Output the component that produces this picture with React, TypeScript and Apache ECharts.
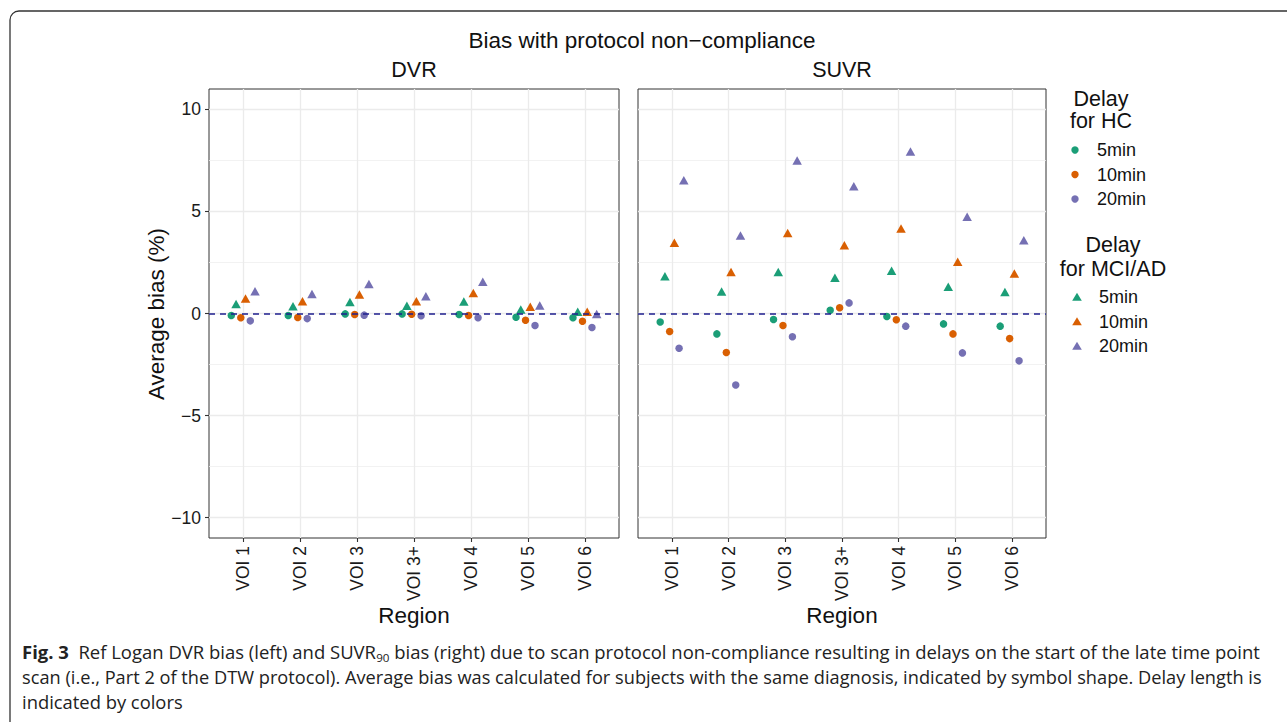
import React, { useEffect, useRef } from 'react';
import * as echarts from 'echarts';

const regions = ['VOI 1', 'VOI 2', 'VOI 3', 'VOI 3+', 'VOI 4', 'VOI 5', 'VOI 6'];
const delays = ['5min', '10min', '20min'];
const colors = ['#1B9E77', '#D95F02', '#7570B3'];
const yTicks = [-10, -5, 0, 5, 10];
const yMinor = [-7.5, -2.5, 2.5, 7.5];

// DVR panel: HC (circles) and MCI/AD (triangles), per delay
const dvrHC5 = [-0.1, -0.1, -0.02, -0.02, -0.05, -0.18, -0.21];
const dvrHC10 = [-0.21, -0.2, -0.05, -0.04, -0.1, -0.33, -0.38];
const dvrHC20 = [-0.36, -0.25, -0.08, -0.11, -0.21, -0.59, -0.69];
const dvrMCI5 = [0.46, 0.36, 0.56, 0.38, 0.59, 0.2, 0.08];
const dvrMCI10 = [0.73, 0.6, 0.93, 0.6, 1.0, 0.33, 0.08];
const dvrMCI20 = [1.09, 0.95, 1.45, 0.85, 1.55, 0.39, -0.03];

// SUVR panel
const suvrHC5 = [-0.42, -1.0, -0.29, 0.16, -0.15, -0.51, -0.62];
const suvrHC10 = [-0.88, -1.91, -0.59, 0.28, -0.31, -1.0, -1.23];
const suvrHC20 = [-1.7, -3.5, -1.14, 0.52, -0.62, -1.93, -2.32];
const suvrMCI5 = [1.83, 1.08, 2.03, 1.75, 2.1, 1.31, 1.05];
const suvrMCI10 = [3.47, 2.03, 3.95, 3.35, 4.17, 2.53, 1.96];
const suvrMCI20 = [6.53, 3.82, 7.5, 6.24, 7.94, 4.74, 3.59];

const FONT = 'Liberation Sans, Arial, sans-serif';
const CAP_FONT = 'Open Sans, Noto Sans, sans-serif';

const fmtY = (v: number) => (v < 0 ? '\u2212' + Math.abs(v) : String(v));

export default function App() {
  const ref = useRef<HTMLDivElement>(null);
  useEffect(() => {
    if (!ref.current) return;
    const chart = echarts.init(ref.current, undefined, { renderer: 'svg' });

    const panels = [
      { hc: [dvrHC5, dvrHC10, dvrHC20], mci: [dvrMCI5, dvrMCI10, dvrMCI20] },
      { hc: [suvrHC5, suvrHC10, suvrHC20], mci: [suvrMCI5, suvrMCI10, suvrMCI20] },
    ];
    const grids = [
      { left: 209, top: 89, width: 410, height: 449 },
      { left: 638, top: 89, width: 408, height: 449 },
    ];
    const catIdx = regions.map((_, i) => i);
    const dodge = 0.5 / 6;

    const xAxis: any[] = [];
    const yAxis: any[] = [];
    const series: any[] = [];
    grids.forEach((_, g) => {
      xAxis.push({
        type: 'value',
        gridIndex: g,
        min: -0.6,
        max: 6.6,
        position: 'bottom',
        axisLine: { show: false, onZero: false },
        axisTick: { show: true, customValues: catIdx, length: 4, lineStyle: { color: '#333', width: 1.1 } },
        axisLabel: {
          customValues: catIdx,
          formatter: (v: number) => regions[Math.round(v)] ?? '',
          rotate: 90,
          fontSize: 17.5,
          color: '#1a1a1a',
          fontFamily: FONT,
          margin: 8,
        },
        splitLine: { show: true, lineStyle: { color: '#EBEBEB', width: 1.3 } },
      });
      yAxis.push({
        type: 'value',
        gridIndex: g,
        min: -11,
        max: 11,
        position: 'left',
        axisLine: { show: false, onZero: false },
        axisTick: { show: g === 0, customValues: yTicks, length: 4, lineStyle: { color: '#333', width: 1.1 } },
        axisLabel: {
          show: g === 0,
          customValues: yTicks,
          formatter: fmtY,
          fontSize: 17.5,
          color: '#1a1a1a',
          fontFamily: FONT,
          margin: 8,
        },
        splitLine: { show: true, lineStyle: { color: '#EBEBEB', width: 1.3 } },
      });
    });
    // minor y gridlines
    grids.forEach((_, g) => {
      yAxis.push({
        type: 'value',
        gridIndex: g,
        min: -11,
        max: 11,
        position: 'left',
        axisLine: { show: false, onZero: false },
        axisTick: { show: false, customValues: yMinor },
        axisLabel: { show: false, customValues: yMinor },
        splitLine: { show: true, lineStyle: { color: '#EFEFEF', width: 0.8 } },
      });
    });

    panels.forEach((p, g) => {
      const groups: { vals: number[]; k: number; color: string; sym: string; name: string }[] = [];
      for (let d = 0; d < 3; d++) {
        groups.push({ vals: p.hc[d], k: d * 2, color: colors[d], sym: 'circle', name: 'HC ' + delays[d] });
        groups.push({ vals: p.mci[d], k: d * 2 + 1, color: colors[d], sym: 'triangle', name: 'MCI/AD ' + delays[d] });
      }
      series.push({
        type: 'scatter',
        xAxisIndex: g,
        yAxisIndex: g,
        data: [],
        silent: true,
        markLine: {
          silent: true,
          symbol: 'none',
          label: { show: false },
          lineStyle: { color: '#1F1F8F', type: [6, 5], width: 1.6 },
          data: [{ yAxis: 0 }],
        },
      });
      groups.forEach((gr) => {
        series.push({
          type: 'scatter',
          name: gr.name,
          xAxisIndex: g,
          yAxisIndex: g,
          symbol: gr.sym,
          symbolSize: gr.sym === 'circle' ? 7.5 : [9.5, 8.5],
          itemStyle: { color: gr.color, opacity: 1 },
          data: gr.vals.map((v, i) => [i + (gr.k - 2.5) * dodge, v]),
          z: 3,
        });
      });
    });

    const legendItems = (y0: number, sym: string, xs: number, xl: number) =>
      delays.flatMap((d, i) => {
        const cy = y0 + i * 24.5;
        const key =
          sym === 'circle'
            ? { type: 'circle', shape: { cx: xs, cy, r: 3.7 }, style: { fill: colors[i] } }
            : {
                type: 'polygon',
                shape: { points: [[xs, cy - 4.3], [xs + 4.8, cy + 3.7], [xs - 4.8, cy + 3.7]] },
                style: { fill: colors[i] },
              };
        return [
          key,
          {
            type: 'text',
            x: xl,
            y: cy,
            style: { text: d, fontSize: 18, fontFamily: FONT, fill: '#111', textAlign: 'left', textVerticalAlign: 'middle' },
          },
        ];
      });

    const txt = (text: string, x: number, y: number, size: number, extra: any = {}) => ({
      type: 'text',
      x,
      y,
      ...extra,
      style: { text, fontSize: size, fontFamily: FONT, fill: '#111', textAlign: 'center', textVerticalAlign: 'middle', ...(extra.style || {}) },
    });

    const CAP = 17.5;
    const capRich = {
      b: { fontWeight: 'bold', fontSize: CAP, fontFamily: CAP_FONT, fill: '#222', lineHeight: 22 },
      s: { fontSize: 11, fontFamily: CAP_FONT, fill: '#222', lineHeight: 14, verticalAlign: 'bottom' },
    };
    const capLine = (text: string, y: number, sx: number) => ({
      type: 'text',
      x: 22,
      y,
      scaleX: sx,
      style: {
        text,
        rich: capRich,
        fontSize: CAP,
        fontFamily: CAP_FONT,
        fill: '#222',
        textAlign: 'left',
        textVerticalAlign: 'middle',
        lineHeight: 22,
      },
    });

    const graphic: any[] = [
      {
        type: 'rect',
        shape: { x: 10, y: 11, width: 1400, height: 900, r: 9 },
        style: { fill: 'none', stroke: '#333', lineWidth: 1.3 },
        silent: true,
      },
      txt('Bias with protocol non\u2212compliance', 642, 40, 22.5),
      txt('DVR', 414, 70, 21.5),
      txt('SUVR', 842, 70, 21.5),
      txt('Average bias (%)', 156, 314, 22.5, { rotation: Math.PI / 2 }),
      txt('Region', 414, 615, 22.5),
      txt('Region', 842, 615, 22.5),
      txt('Delay', 1101, 99, 21.5),
      txt('for HC', 1101, 121, 21.5),
      ...legendItems(150, 'circle', 1075, 1097),
      txt('Delay', 1113, 245, 21.5),
      txt('for MCI/AD', 1113, 269, 21.5),
      ...legendItems(297, 'triangle', 1077, 1099),
      capLine(
        '{b|Fig. 3}  Ref Logan DVR bias (left) and SUVR{s|90} bias (right) due to scan protocol non-compliance resulting in delays on the start of the late time point',
        652,
        1.056
      ),
      capLine(
        'scan (i.e., Part 2 of the DTW protocol). Average bias was calculated for subjects with the same diagnosis, indicated by symbol shape. Delay length is',
        677,
        1.041
      ),
      capLine('indicated by colors', 702, 1.05),
    ];

    chart.setOption({
      animation: false,
      backgroundColor: '#fff',
      grid: grids.map((g) => ({ ...g, show: true, borderColor: '#333', borderWidth: 1, backgroundColor: 'transparent', containLabel: false })),
      xAxis,
      yAxis,
      series,
      graphic,
    });
    return () => chart.dispose();
  }, []);
  return <div ref={ref} style={{ position: 'absolute', left: 0, top: 0, width: 1287, height: 722 }} />;
}
